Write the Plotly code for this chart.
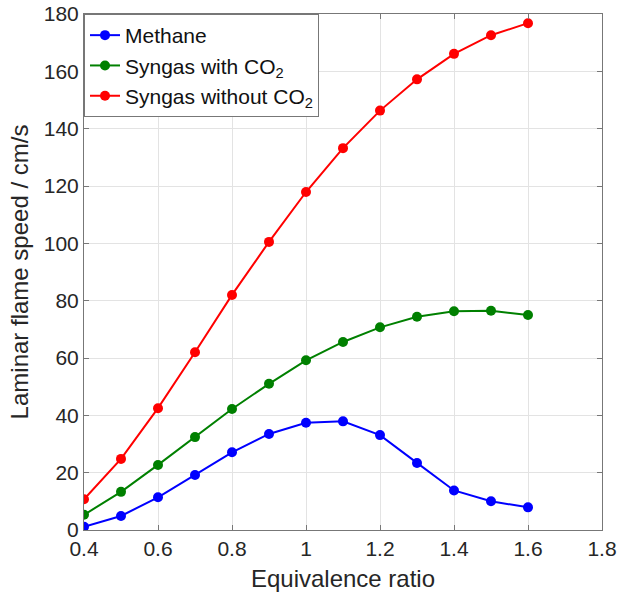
import plotly.graph_objects as go

phi = [0.4, 0.5, 0.6, 0.7, 0.8, 0.9, 1.0, 1.1, 1.2, 1.3, 1.4, 1.5, 1.6]
methane = [1.1, 4.9, 11.4, 19.2, 27.1, 33.5, 37.4, 37.9, 33.1, 23.4, 13.8, 10.0, 7.9]
syngas_co2 = [5.3, 13.3, 22.7, 32.4, 42.2, 51.0, 59.2, 65.6, 70.7, 74.4, 76.3, 76.5, 75.0]
syngas_no_co2 = [10.7, 24.8, 42.5, 62.0, 82.0, 100.5, 117.9, 133.2, 146.3, 157.2, 166.1, 172.6, 176.8]

names = ["Methane", "Syngas with CO<sub>2</sub>", "Syngas without CO<sub>2</sub>"]
colors = ["#0000ff", "#008000", "#ff0000"]
series = [methane, syngas_co2, syngas_no_co2]

fig = go.Figure()
for n, c, s in zip(names, colors, series):
    fig.add_trace(go.Scatter(
        x=phi, y=s, name=n, mode="lines+markers",
        line=dict(color=c, width=2),
        marker=dict(color=c, size=10),
    ))

FONT = "Liberation Sans, Arial"
axis_common = dict(
    showline=True, linecolor="#777777", linewidth=1, mirror="ticks",
    ticks="inside", ticklen=5, tickcolor="#777777",
    showgrid=True, gridcolor="#e3e3e3", gridwidth=1,
    zeroline=False, automargin=False,
    tickfont=dict(family=FONT, size=21, color="#262626"),
    title_font=dict(family=FONT, size=24, color="#262626"),
)

fig.update_xaxes(range=[0.4, 1.8], tickvals=[0.4, 0.6, 0.8, 1.0, 1.2, 1.4, 1.6, 1.8],
                 ticktext=["0.4", "0.6", "0.8", "1", "1.2", "1.4", "1.6", "1.8"],
                 title_text="Equivalence ratio", title_standoff=10, **axis_common)
fig.update_yaxes(range=[0, 180], dtick=20,
                 title_text="Laminar flame speed / cm/s", title_standoff=8, **axis_common)

fig.update_layout(
    width=622, height=599,
    margin=dict(l=84, r=20, t=14, b=69, autoexpand=False),
    plot_bgcolor="white", paper_bgcolor="white",
    font=dict(family=FONT, color="#262626"),
    legend=dict(
        x=0, y=1, xanchor="left", yanchor="top",
        bgcolor="white", bordercolor="#777777", borderwidth=1,
        font=dict(family=FONT, size=21, color="#111111"),
        itemwidth=30, tracegroupgap=0,
    ),
    showlegend=True,
)

fig.write_html("out.html")
